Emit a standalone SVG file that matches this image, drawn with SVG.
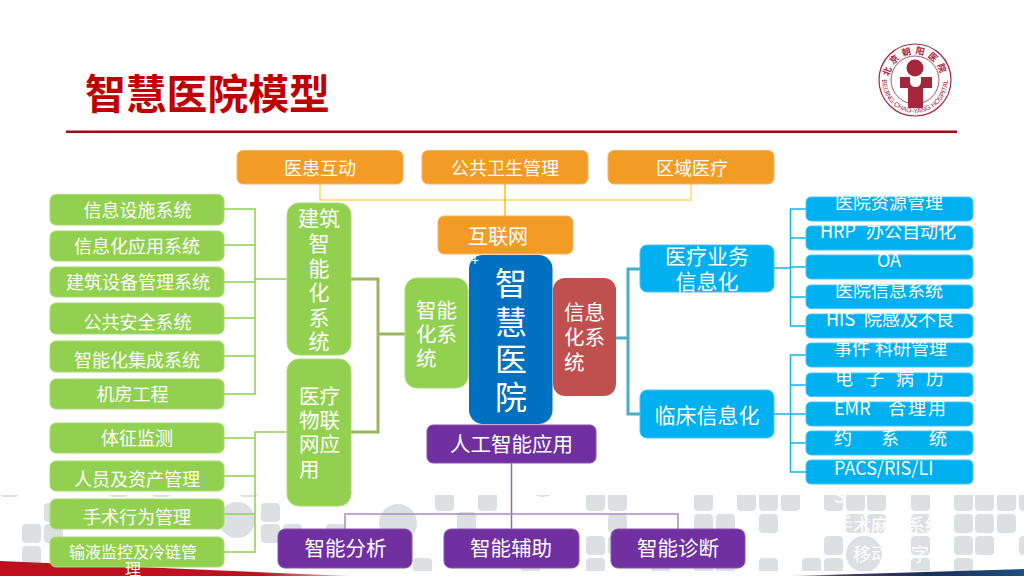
<svg xmlns="http://www.w3.org/2000/svg" xmlns:xlink="http://www.w3.org/1999/xlink" width="1024" height="576" viewBox="0 0 1024 576">
<style>
text{font-family:"Noto Sans CJK SC","Liberation Sans",sans-serif;fill:#fff}
.t18{font-size:18px;text-anchor:middle}
.t16{font-size:16px;text-anchor:middle}
.t21{font-size:21px;text-anchor:middle}
.l21{font-size:20.5px}
.r18{font-size:18px}
.green{fill:#92d050;stroke:#a8db72}
.orange{fill:#f39c25;stroke:#f6b462}
.blue{fill:#00b0f0;stroke:#45c6f4}
.purple{fill:#7030a0;stroke:#8a55b2}
.sq{fill:#dde0e3}
.lg{fill:none;stroke:#92d050;stroke-width:1.5}
.lb{fill:none;stroke:#12b4ee;stroke-width:1.5}
.lp{fill:none;stroke:#a98cc4;stroke-width:1.5}
.ly{fill:none;stroke:#ffd766;stroke-width:1.5}
.thickg{fill:none;stroke:#9bb65f;stroke-width:3}
.thickb{fill:none;stroke:#4bacc6;stroke-width:3}
.logo{fill:#a5253c}
</style>
<defs>
<rect id="s" class="sq" width="19" height="19" rx="4"/>
<clipPath id="bgclip"><rect x="0" y="495" width="1024" height="76"/></clipPath>
<linearGradient id="rg" x1="0" x2="1" y1="0" y2="0"><stop offset="0" stop-color="#bf0f1e"/><stop offset=".75" stop-color="#c0101f"/><stop offset="1" stop-color="#f2b9bd"/></linearGradient>
<linearGradient id="bg" x1="0" x2="1" y1="0" y2="0"><stop offset="0" stop-color="#c9c4cc"/><stop offset=".2" stop-color="#4a3a63"/><stop offset=".6" stop-color="#1b2f5c"/><stop offset="1" stop-color="#1c4f7d"/></linearGradient>
<path id="topArc" d="M889 80A26 26 0 0 1 941 80" fill="none"/>
<path id="botArc" d="M882 80A33 33 0 0 0 948 80" fill="none"/>
</defs>

<g id="background">
<g clip-path="url(#bgclip)">
<use href="#s" x="0" y="478"/><use href="#s" x="109" y="478"/><use href="#s" x="152" y="478"/><use href="#s" x="239" y="478"/>
<use href="#s" x="22" y="524"/><use href="#s" x="22" y="546"/><use href="#s" x="44" y="503"/><use href="#s" x="44" y="524"/>
<circle cx="237" cy="520" r="18" class="sq"/>
<use href="#s" x="261" y="503"/><use href="#s" x="261" y="524"/><use href="#s" x="283" y="524"/><use href="#s" x="326" y="524"/>
<circle cx="398" cy="523" r="19" class="sq"/>
<use href="#s" x="413" y="558"/>
<use href="#s" x="435" y="492"/><use href="#s" x="478" y="492"/><use href="#s" x="457" y="512"/>
<circle cx="543" cy="478" r="19" class="sq"/>
<use href="#s" x="586" y="492"/><use href="#s" x="608" y="492"/><use href="#s" x="608" y="514"/><use href="#s" x="586" y="536"/><use href="#s" x="608" y="536"/><use href="#s" x="586" y="558"/><use href="#s" x="521" y="558"/><use href="#s" x="651" y="558"/>
<use href="#s" x="694" y="492"/><use href="#s" x="737" y="492"/><use href="#s" x="759" y="492"/><use href="#s" x="781" y="492"/>
<use href="#s" x="694" y="514"/><use href="#s" x="716" y="514"/><use href="#s" x="759" y="514"/>
<use href="#s" x="694" y="558"/><use href="#s" x="716" y="558"/><use href="#s" x="759" y="558"/><use href="#s" x="802" y="558"/><use href="#s" x="824" y="558"/>
<use href="#s" x="824" y="492"/><use href="#s" x="846" y="492"/><use href="#s" x="867" y="492"/><use href="#s" x="846" y="514"/><use href="#s" x="867" y="514"/><use href="#s" x="824" y="536"/>
<circle cx="864" cy="554" r="18" class="sq"/>
<use href="#s" x="911" y="492"/><use href="#s" x="911" y="514"/><use href="#s" x="911" y="536"/><use href="#s" x="911" y="558"/>
<use href="#s" x="954" y="492"/><use href="#s" x="975" y="492"/><use href="#s" x="997" y="492"/><use href="#s" x="1019" y="492"/>
<use href="#s" x="954" y="514"/><use href="#s" x="975" y="514"/><use href="#s" x="997" y="514"/>
<use href="#s" x="954" y="536"/><use href="#s" x="975" y="536"/><use href="#s" x="1019" y="536"/><use href="#s" x="954" y="558"/>
</g>
<polygon points="0,561 350,576 0,576" fill="url(#rg)"/>
<polygon points="790,576 1024,569 1024,576" fill="url(#bg)"/>
</g>

<g id="header">
<text x="85" y="108.500" font-size="40.800" font-weight="700" style="fill:#c00000">智慧医院模型</text>
<rect x="66" y="130.500" width="891" height="2.500" fill="#8f1414"/>
</g>

<g id="logo">
<circle cx="915" cy="80" r="36" fill="none" stroke="#a5253c" stroke-width="1.200"/>
<circle cx="915" cy="80" r="24" fill="none" stroke="#a5253c" stroke-width=".8"/>
<circle class="logo" cx="915" cy="68" r="8.500"/>
<path class="logo" d="M900 77H910V81Q910 87 915.500 87Q921 87 921 81V77H932V88H923V108H908V88H900Z"/>
<text font-size="9" font-weight="700" style="fill:#a5253c"><textPath href="#topArc" startOffset="50%" text-anchor="middle" letter-spacing="3.500">北京朝阳医院</textPath></text>
<text font-size="6.800" style="fill:#a5253c;font-family:'Liberation Sans',sans-serif"><textPath href="#botArc" startOffset="50%" text-anchor="middle">BEIJING CHAO-YANG HOSPITAL</textPath></text>
</g>

<g id="connectors">
<path class="ly" d="M320 184V200H691V184"/>
<path d="M505 184V216" fill="none" stroke="#ffc000" stroke-width="1.500"/>
<path class="lg" d="M224 209H255V394H224M224 245H255M224 282H255M224 318H255M224 356H255M255 279H287"/>
<path class="lg" d="M287 432H255V552H224M224 438H255M224 476H255M224 514H255"/>
<path class="thickg" d="M351 279H378V432H351M378 334H405"/>
<path class="thickb" d="M640 269H628V414H640M616 338H628"/>
<path class="lb" d="M774 268H790.500M806 209H790.500V326H806M790.500 238H806M790.500 267H806M790.500 297H806"/>
<path class="lb" d="M774 414H790.500M806 355H790.500V472H806M790.500 385H806M790.500 414H806M790.500 443H806"/>
<path d="M511.500 463V529" fill="none" stroke="#8e6fb0" stroke-width="1.500"/>
<path class="lp" d="M345 529V514H678V529"/>
</g>

<g id="n-yihuan"><rect class="orange" x="237" y="150.500" width="166" height="33.500" rx="6"/><text class="t18" x="320" y="174.500">医患互动</text></g>
<g id="n-gonggong"><rect class="orange" x="422" y="150.500" width="166" height="33.500" rx="6"/><text class="t18" x="505" y="174.500">公共卫生管理</text></g>
<g id="n-quyu"><rect class="orange" x="608" y="150.500" width="166" height="33.500" rx="6"/><text class="t18" x="692" y="174.500">区域医疗</text></g>
<g id="n-hulianwang"><rect class="orange" x="438" y="216" width="135" height="38" rx="6"/><text x="498" y="243.500" font-size="20" text-anchor="middle">互联网</text></g>

<g id="n-left1"><rect class="green" x="50" y="194.500" width="174" height="30.500" rx="6"/><text class="t18" x="137.500" y="216.500">信息设施系统</text></g>
<g id="n-left2"><rect class="green" x="50" y="231" width="174" height="30" rx="6"/><text class="t18" x="137" y="252.500">信息化应用系统</text></g>
<g id="n-left3"><rect class="green" x="50" y="267" width="174" height="30" rx="6"/><text class="t18" x="138" y="288.500">建筑设备管理系统</text></g>
<g id="n-left4"><rect class="green" x="50" y="303" width="174" height="31" rx="6"/><text class="t18" x="137.500" y="328.500">公共安全系统</text></g>
<g id="n-left5"><rect class="green" x="50" y="341" width="174" height="31" rx="6"/><text class="t18" x="137" y="366.500">智能化集成系统</text></g>
<g id="n-left6"><rect class="green" x="50" y="379" width="174" height="30" rx="6"/><text class="t18" x="132.500" y="400.500">机房工程</text></g>
<g id="n-left7"><rect class="green" x="50" y="423" width="174" height="30" rx="6"/><text class="t18" x="137" y="444.500">体征监测</text></g>
<g id="n-left8"><rect class="green" x="50" y="461" width="174" height="30" rx="6"/><text class="t18" x="137" y="485.500">人员及资产管理</text></g>
<g id="n-left9"><rect class="green" x="50" y="499" width="174" height="30" rx="6"/><text class="t18" x="137" y="523.500">手术行为管理</text></g>
<g id="n-left10"><rect class="green" x="50" y="537" width="174" height="30" rx="6"/><text class="t16" x="133" y="558">输液监控及冷链管</text><text class="t16" x="133" y="575">理</text></g>

<g id="n-jianzhu"><rect class="green" x="287" y="203" width="64" height="152" rx="12"/>
<text class="t21" x="319" y="226">建筑</text><text class="t21" x="319" y="250.500">智</text><text class="t21" x="319" y="275.500">能</text><text class="t21" x="319" y="300">化</text><text class="t21" x="319" y="324.500">系</text><text class="t21" x="319" y="349">统</text></g>
<g id="n-wulian"><rect class="green" x="287" y="359" width="64" height="147" rx="12"/>
<text class="l21" x="299" y="403.500">医疗</text><text class="l21" x="299" y="428">物联</text><text class="l21" x="299" y="452">网应</text><text class="l21" x="299" y="476.500">用</text></g>
<g id="n-zhineng"><rect class="green" x="405" y="278" width="63" height="110" rx="12"/>
<text class="l21" x="416" y="317.500">智能</text><text class="l21" x="416" y="341.500">化系</text><text class="l21" x="416" y="365.500">统</text></g>

<g id="n-center"><rect x="469" y="255" width="83.500" height="169" rx="14" fill="#0070c0"/>
<text x="511" y="295" font-size="32" text-anchor="middle">智</text><text x="511" y="334" font-size="32" text-anchor="middle">慧</text><text x="511" y="371" font-size="32" text-anchor="middle">医</text><text x="511" y="409" font-size="32" text-anchor="middle">院</text>
<text x="471" y="266" font-size="14">+</text></g>

<g id="n-xinxi"><rect x="553" y="278" width="63" height="118" rx="12" fill="#c0504d"/>
<text class="l21" x="564" y="319.500">信息</text><text class="l21" x="564" y="344.500">化系</text><text class="l21" x="564" y="369.500">统</text></g>

<g id="n-yiliao"><rect class="blue" x="640" y="245" width="134" height="47" rx="7"/><text class="t21" x="707" y="264">医疗业务</text><text class="t21" x="707" y="289">信息化</text></g>
<g id="n-linchuang"><rect class="blue" x="640" y="390" width="134" height="48" rx="7"/><text class="t21" x="707" y="422.500">临床信息化</text></g>

<g id="n-ai"><rect class="purple" x="427" y="425" width="169" height="38" rx="6"/><text x="511.500" y="452" font-size="20.500" text-anchor="middle">人工智能应用</text></g>
<g id="n-fenxi"><rect class="purple" x="278" y="529" width="134" height="39" rx="7"/><text x="345.500" y="556" font-size="20.500" text-anchor="middle">智能分析</text></g>
<g id="n-fuzhu"><rect class="purple" x="444" y="529" width="135" height="39" rx="7"/><text x="511" y="556" font-size="20.500" text-anchor="middle">智能辅助</text></g>
<g id="n-zhenduan"><rect class="purple" x="611" y="529" width="134" height="39" rx="7"/><text x="678" y="556" font-size="20.500" text-anchor="middle">智能诊断</text></g>

<g id="n-right">
<rect class="blue" x="806" y="197" width="167" height="24" rx="5"/>
<rect class="blue" x="806" y="226" width="167" height="24" rx="5"/>
<rect class="blue" x="806" y="255" width="167" height="24" rx="5"/>
<rect class="blue" x="806" y="285" width="167" height="23.500" rx="5"/>
<rect class="blue" x="806" y="314" width="167" height="24" rx="5"/>
<rect class="blue" x="806" y="343" width="167" height="24" rx="5"/>
<rect class="blue" x="806" y="373" width="167" height="23.500" rx="5"/>
<rect class="blue" x="806" y="402" width="167" height="24" rx="5"/>
<rect class="blue" x="806" y="431" width="167" height="24" rx="5"/>
<rect class="blue" x="806" y="460" width="167" height="24" rx="5"/>
<text class="t18" x="889" y="208.500">医院资源管理</text>
<text class="r18" x="820" y="238">HRP</text><text class="r18" x="866" y="238">办公自动化</text>
<text class="t18" x="889" y="267">OA</text>
<text class="t18" x="889" y="296.500">医院信息系统</text>
<text class="r18" x="826" y="325.500">HIS</text><text class="r18" x="864" y="325.500">院感及不良</text>
<text class="r18" x="834" y="354.500">事件</text><text class="r18" x="875" y="354.500">科研管理</text>
<text class="r18" x="835 866 896 926" y="384.500">电子病历</text>
<text class="r18" x="834" y="414.500">EMR</text><text class="r18" x="888 908 928" y="414.500">合理用</text>
<text class="r18" x="834" y="444.500">约</text><text class="r18" x="881" y="444.500">系</text><text class="r18" x="929" y="444.500">统</text>
<text class="r18" x="834" y="474.500">PACS/RIS/LI</text>
<text class="r18" x="834" y="503">S</text>
<text class="r18" x="835" y="532">手术麻醉系统</text>
<text class="r18" x="853" y="561">移动</text><text class="r18" x="911" y="561">字</text>
</g>
</svg>
